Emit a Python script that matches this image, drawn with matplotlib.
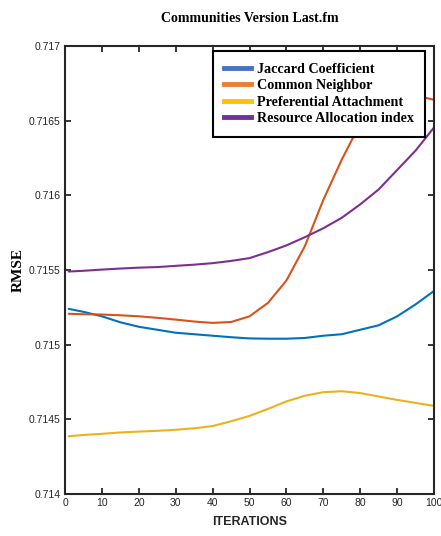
import numpy as np
import matplotlib.pyplot as plt
from matplotlib.lines import Line2D

# Wartości RMSE w kolejnych iteracjach
iteracje = [1, 5, 10, 15, 20, 25, 30, 35, 40, 45, 50,
            55, 60, 65, 70, 75, 80, 85, 90, 95, 100]

jaccard = [0.71524, 0.71522, 0.71519, 0.71515, 0.71512, 0.71510, 0.71508,
           0.71507, 0.71506, 0.71505, 0.715042, 0.71504, 0.71504, 0.715045,
           0.71506, 0.71507, 0.71510, 0.71513, 0.71519, 0.71527, 0.71536]

common = [0.715207, 0.715204, 0.715202, 0.715197, 0.71519, 0.71518, 0.715168,
          0.715155, 0.715146, 0.715152, 0.71519, 0.71528, 0.71543, 0.71566,
          0.71597, 0.71624, 0.71648, 0.71661, 0.71667, 0.71667, 0.71664]

preferential = [0.714387, 0.714395, 0.714403, 0.714412, 0.714418, 0.714423,
                0.71443, 0.71444, 0.714455, 0.714487, 0.714523, 0.71457,
                0.71462, 0.714658, 0.714682, 0.714688, 0.714676, 0.714653,
                0.71463, 0.71461, 0.71459]

resource = [0.71549, 0.715495, 0.715503, 0.71551, 0.715516, 0.71552,
            0.715528, 0.715536, 0.715546, 0.715561, 0.71558, 0.71562,
            0.715665, 0.71572, 0.71578, 0.71585, 0.71594, 0.71604,
            0.71617, 0.7163, 0.716455]

nazwy = ["Jaccard Coefficient", "Common Neighbor",
         "Preferential Attachment", "Resource Allocation index"]
kolory_linii = ["#0072BD", "#D95319", "#EDB120", "#7E2F8E"]
kolory_legendy = ["#4472C4", "#ED7D31", "#FFC000", "#7030A0"]

yticks = [0.714, 0.7145, 0.715, 0.7155, 0.716, 0.7165, 0.717]
yticklabels = ["0.714", "0.7145", "0.715", "0.7155", "0.716", "0.7165", "0.717"]
xticks = list(range(0, 101, 10))

fig = plt.figure(figsize=(4.41, 5.36), dpi=100)
ax = fig.add_axes([0.1474, 0.0784, 0.8368, 0.8356])

for seria, kolor in zip([jaccard, common, preferential, resource], kolory_linii):
    ax.plot(iteracje, seria, color=kolor, linewidth=1.5,
            solid_joinstyle="round", solid_capstyle="round")

ax.set_xlim(0, 100)
ax.set_ylim(0.714, 0.717)
ax.set_xticks(xticks)
ax.set_yticks(yticks)
ax.set_yticklabels(yticklabels)

ax.tick_params(direction="in", length=4, width=1.3, top=True, right=True,
               labelsize=7.5, colors="#262626", pad=3)
for lab in ax.get_xticklabels() + ax.get_yticklabels():
    lab.set_fontfamily("Liberation Sans")
for s in ax.spines.values():
    s.set_linewidth(1.5)
    s.set_color("#262626")

ax.set_xlabel("ITERATIONS", fontsize=9, fontweight="bold",
              family="Liberation Sans", color="#262626", labelpad=6)
ax.set_ylabel("RMSE", fontsize=11, fontweight="bold",
              family="Liberation Serif", labelpad=3)
ax.set_title("Communities Version Last.fm", fontsize=10, fontweight="bold",
             family="Liberation Serif", pad=17)

uchwyty = [Line2D([0], [0], color=k, linewidth=3.5) for k in kolory_legendy]
leg = ax.legend(uchwyty, nazwy, loc="upper right", bbox_to_anchor=(0.988, 0.998),
                prop={"family": "Liberation Serif", "weight": "bold", "size": 10.2},
                handlelength=1.85, handletextpad=0.45, labelspacing=0.25,
                borderpad=0.8, borderaxespad=0.3, fancybox=False, framealpha=1,
                edgecolor="black")
leg.get_frame().set_linewidth(1.5)

fig.savefig("out.png", dpi=100)
